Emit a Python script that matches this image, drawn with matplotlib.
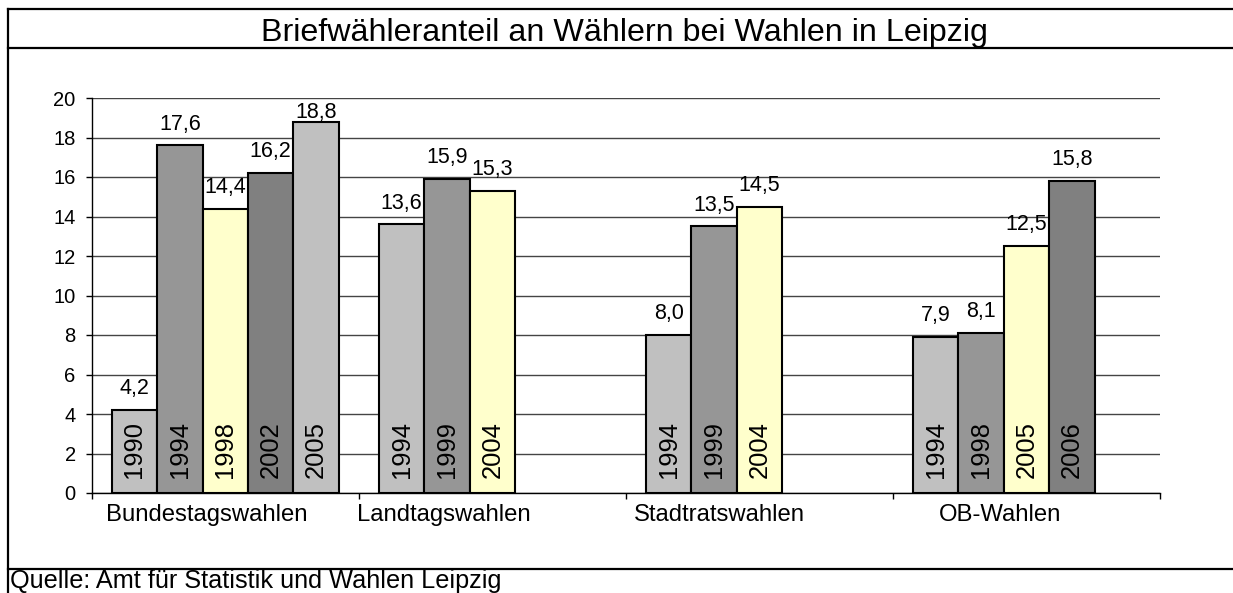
import matplotlib
matplotlib.use("Agg")
import matplotlib.pyplot as plt
from matplotlib.lines import Line2D

plt.rcParams["font.family"] = ["Liberation Sans", "DejaVu Sans"]

# Daten: Briefwähleranteil in %
categories = ["Bundestagswahlen", "Landtagswahlen", "Stadtratswahlen", "OB-Wahlen"]
years = [
    ["1990", "1994", "1998", "2002", "2005"],
    ["1994", "1999", "2004"],
    ["1994", "1999", "2004"],
    ["1994", "1998", "2005", "2006"],
]
values = [
    [4.2, 17.6, 14.4, 16.2, 18.8],
    [13.6, 15.9, 15.3],
    [8.0, 13.5, 14.5],
    [7.9, 8.1, 12.5, 15.8],
]
yticks = list(range(0, 21, 2))

# Farben je Position in der Gruppe
slot_colors = ["#C0C0C0", "#969696", "#FFFFCC", "#808080", "#C0C0C0"]
label_shift = [0.07, 0.18, 0.15, 0.10]  # Kategorie-Beschriftung etwas nach links

W, H = 1233, 593
fig = plt.figure(figsize=(W / 100, H / 100), dpi=100)

# Rahmen wie im Excel-Diagramm
lw = 1.6
fig.add_artist(Line2D([8 / W, 8 / W], [0, 1 - 9 / H], color="black", lw=lw))
fig.add_artist(Line2D([8 / W, 1.01], [1 - 9 / H, 1 - 9 / H], color="black", lw=lw))
fig.add_artist(Line2D([8 / W, 1.01], [1 - 48 / H, 1 - 48 / H], color="black", lw=lw))
fig.add_artist(Line2D([8 / W, 1.01], [1 - 569 / H, 1 - 569 / H], color="black", lw=lw))

fig.text(624 / W, 1 - 40.5 / H, "Briefwähleranteil an Wählern bei Wahlen in Leipzig",
         ha="center", va="baseline", fontsize=23.2)
fig.text(10 / W, 1 - 588 / H, "Quelle: Amt für Statistik und Wahlen Leipzig",
         ha="left", va="baseline", fontsize=18.2)

left, right, bottom, top = 91.7, 1160, 493, 98
ax = fig.add_axes([left / W, 1 - bottom / H, (right - left) / W, (bottom - top) / H])

bw = 0.17
off = 0.075
for i, cat in enumerate(categories):
    for k, (yr, v) in enumerate(zip(years[i], values[i])):
        x = i + off + k * bw
        ax.bar(x, v, width=bw, align="edge", color=slot_colors[k],
               edgecolor="black", linewidth=1.5, zorder=3)
        ax.text(x + bw / 2, min(v + 0.8, 19.0), f"{v:.1f}".replace(".", ","),
                ha="center", va="baseline", fontsize=15.5, zorder=4)
        ax.text(x + bw / 2, 0.75, yr, rotation=90, ha="center", va="bottom",
                fontsize=18.4, zorder=4)
    ax.text(i + 0.5 - label_shift[i], -1.4, cat, ha="center", va="baseline",
            fontsize=17.2)

ax.set_xlim(0, 4)
ax.set_ylim(0, 20)
ax.set_xticks(range(len(categories) + 1))
ax.set_xticklabels([])
ax.set_yticks(yticks)
ax.tick_params(axis="y", labelsize=14.5, length=4.5, width=1, pad=7, direction="out")
ax.tick_params(axis="x", length=4.5, width=1, direction="out")
ax.yaxis.grid(True, color="#444444", linewidth=1)
ax.set_axisbelow(True)
for s in ["top", "right"]:
    ax.spines[s].set_visible(False)
for s in ["left", "bottom"]:
    ax.spines[s].set_linewidth(1)

fig.savefig("out.png", dpi=100)
